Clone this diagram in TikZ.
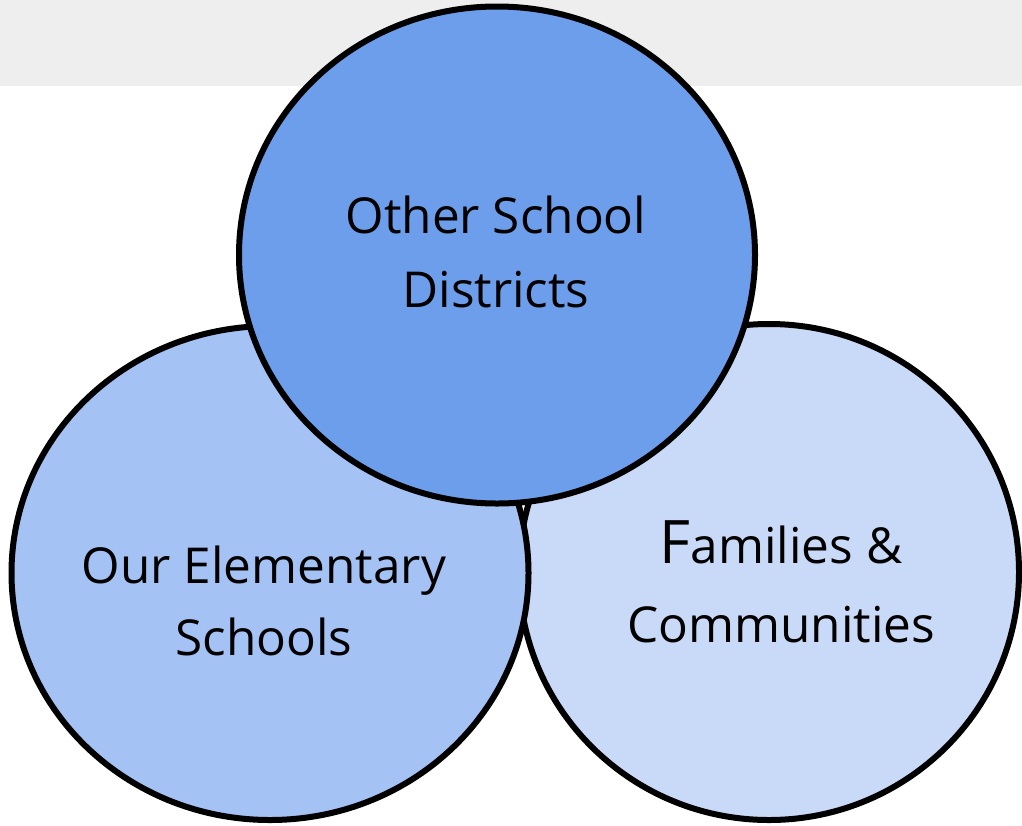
\documentclass[tikz,border=0pt]{standalone}
\usepackage{fontspec}
\setmainfont{Open Sans}
\usetikzlibrary{shapes.geometric}
\definecolor{topblue}{HTML}{6D9EEB}
\definecolor{midblue}{HTML}{A4C2F4}
\definecolor{paleblue}{HTML}{C9DAF8}
\definecolor{band}{HTML}{EEEEEE}
\newcommand{\bigF}{{\fontsize{60}{60}\selectfont F}}

\begin{document}
\begin{tikzpicture}[x=1pt,y=-1pt,
    bubble/.style={ellipse,draw=black,line width=6pt,inner sep=0pt},
    txt/.style={anchor=base,inner sep=0pt,font=\fontsize{49.5}{60}\selectfont}]
    \useasboundingbox (0,0) rectangle (1022,825);
    \fill[band] (0,0) rectangle (1022,86);

    \draw node at (769,572)[name=families,bubble,fill=paleblue,minimum width=500pt,minimum height=496pt]{};
    \draw node at (270,573)[name=elementary,bubble,fill=midblue,minimum width=517pt,minimum height=494pt]{};
    \draw node at (497,255)[name=districts,bubble,fill=topblue,minimum width=516pt,minimum height=497pt]{};

    \draw node at (496,233)[name=districtsA,txt]{Other School};
    \draw node at (496,307)[name=districtsB,txt]{Districts};
    \draw node at (264,583)[name=elementaryA,txt]{Our Elementary};
    \draw node at (264,655)[name=elementaryB,txt]{Schools};
    \draw node at (781,563)[name=familiesA,txt]{\bigF amilies \&};
    \draw node at (781,642)[name=familiesB,txt]{Communities};
\end{tikzpicture}
\end{document}
